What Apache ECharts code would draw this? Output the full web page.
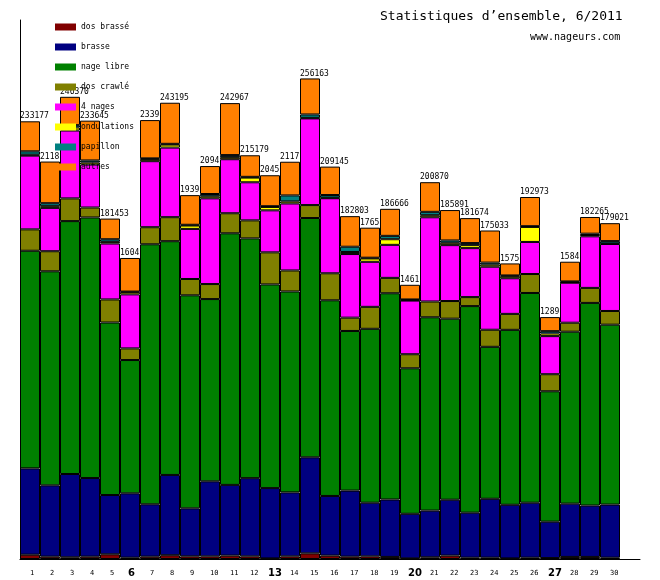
<!DOCTYPE html>
<html>
<head>
<meta charset="utf-8">
<script src="https://cdn.jsdelivr.net/npm/echarts@6/dist/echarts.min.js"></script>
<style>
  html, body { margin: 0; padding: 0; background: #fff; }
  #chart { width: 660px; height: 580px; }
</style>
</head>
<body>
<div id="chart"></div>
<script>
// jours du mois (le dernier créneau reste vide)
const days = ['1','2','3','4','5','6','7','8','9','10','11','12','13','14','15',
  '16','17','18','19','20','21','22','23','24','25','26','27','28','29','30',''];
const boldDays = ['6','13','20','27'];

const dosBrasse = [2300,1250,900,1250,2500,700,1250,2000,1400,1400,1800,1400,300,1400,3000,
  1800,1250,1400,1100,300,900,1800,700,700,300,700,500,1100,1100,700];
const brasse = [46000,38000,44400,41900,31600,34300,27900,42800,25600,40000,37700,41700,37500,34100,51200,
  31800,35200,28600,30600,23800,24900,29800,24000,31400,28600,29300,19400,28400,27400,28300];
const nageLibre = [116000,114100,134800,138900,91950,71050,138600,124600,113550,97150,134100,127800,108550,107100,127550,
  104300,85100,92700,109950,77550,103050,96500,110100,81000,93250,111800,69500,91650,108000,95900];
const dosCrawle = [11400,10700,12100,5300,12300,6200,9100,12800,8700,8000,10700,9600,17100,11200,6900,
  14400,7100,11700,8200,7500,8400,9400,4800,9100,8500,10100,9100,4800,8000,7300];
const quatreNages = [39300,23100,36200,22900,29800,28800,35200,37100,26700,45700,28800,20300,22400,35700,46200,
  40000,33900,24000,17600,28600,44900,29800,26100,33600,19000,17100,20300,21300,27500,35700];
const ondulations = [500,900,1600,1100,900,1200,1100,1600,1800,1100,1100,2500,1800,1100,300,
  300,1100,1800,3000,300,1100,1250,1600,1100,1100,8000,1400,300,700,300];
const papillon = [1800,1600,1250,1100,1400,300,400,400,400,1200,1100,400,400,3200,1800,
  1400,2800,400,1800,300,1800,1250,1100,1100,400,400,1250,400,700,1250];
const autres = [16000,22200,15100,21200,11000,17900,20400,21900,15800,14900,27700,11500,16500,17950,19200,
  15150,16300,16000,14400,7800,15800,16200,13300,17100,6400,15550,7500,10500,8900,9550];

// totaux tels qu'affichés (en partie cachés par la barre suivante)
const totalLabels = ['233177','2118','246370','233645','181453','1604','2339','243195','1939','2094',
  '242967','215179','2045','2117','256163','209145','182803','1765','186666','1461',
  '200870','185891','181674','175033','1575','192973','1289','1584','182265','179021'];

const names = ['dos brassé','brasse','nage libre','dos crawlé','4 nages','ondulations','papillon','autres'];
const colors = ['#800000','#000080','#008000','#808000','#ff00ff','#ffff00','#008080','#ff8000'];
const values = [dosBrasse, brasse, nageLibre, dosCrawle, quatreNages, ondulations, papillon, autres];

const mono = 'DejaVu Sans Mono';

let mycharts = echarts.init(document.getElementById('chart'));

let series = names.map(function (n, i) {
  let s = {
    name: n,
    type: 'bar',
    stack: 'total',
    data: values[i],
    barCategoryGap: '0%',
    itemStyle: { color: colors[i], borderColor: '#000', borderWidth: 1 },
    emphasis: { disabled: true }
  };
  if (i === names.length - 1) {
    s.label = {
      show: true,
      position: [0, -9],
      align: 'left',
      verticalAlign: 'top',
      fontFamily: mono,
      fontSize: 8,
      color: '#000',
      formatter: function (p) { return totalLabels[p.dataIndex]; }
    };
  }
  return s;
});

let option = {
  animation: false,
  backgroundColor: '#fff',
  color: colors,
  graphic: [
    {
      type: 'text',
      left: 380,
      top: 10,
      style: { text: 'Statistiques d’ensemble, 6/2011', font: '13px "DejaVu Sans Mono"', fill: '#000' }
    },
    {
      type: 'text',
      left: 530,
      top: 32,
      style: { text: 'www.nageurs.com', font: '10px "DejaVu Sans Mono"', fill: '#000' }
    }
  ],
  legend: {
    orient: 'vertical',
    left: 50,
    top: 17,
    itemWidth: 21,
    itemHeight: 7,
    itemGap: 10,
    icon: 'rect',
    itemStyle: { borderWidth: 0 },
    selectedMode: false,
    textStyle: { fontFamily: mono, fontSize: 8, color: '#000', lineHeight: 10 },
    data: names
  },
  grid: { left: 20, right: 20, top: 20, bottom: 21 },
  xAxis: {
    type: 'category',
    data: days,
    axisLine: { lineStyle: { color: '#000', width: 1 } },
    axisTick: { show: false },
    axisLabel: {
      interval: 0,
      align: 'left',
      verticalAlign: 'middle',
      margin: 14,
      color: '#000',
      formatter: function (v) {
        if (v === '') return '';
        return boldDays.indexOf(v) >= 0 ? '{b|' + v + '}' : '{n|' + v + '}';
      },
      rich: {
        n: { fontFamily: mono, fontSize: 7, color: '#000' },
        b: { fontFamily: 'DejaVu Sans', fontSize: 10, fontWeight: 'bold', color: '#000', padding: [0, 0, 0, -2] }
      }
    }
  },
  yAxis: {
    type: 'value',
    min: 0,
    max: 287300,
    axisLine: { show: true, lineStyle: { color: '#000', width: 1 } },
    axisTick: { show: false },
    axisLabel: { show: false },
    splitLine: { show: false }
  },
  series: series
};

mycharts.setOption(option);
</script>
</body>
</html>
